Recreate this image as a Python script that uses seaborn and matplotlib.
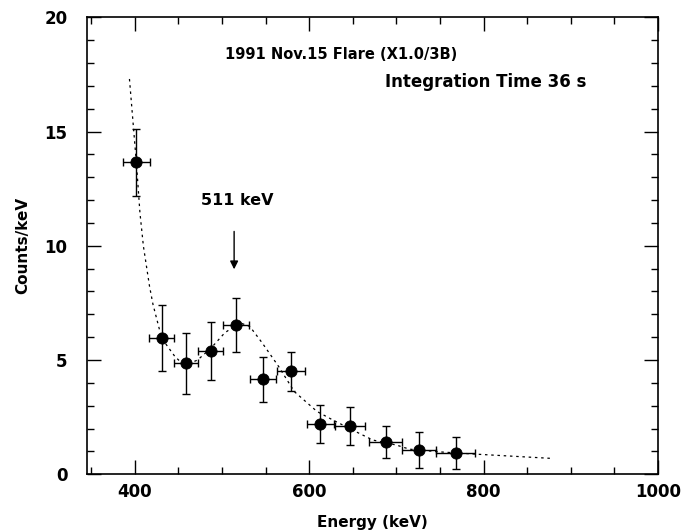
import matplotlib
matplotlib.use("Agg")
import matplotlib.pyplot as plt
import seaborn as sns
import pandas as pd
from matplotlib.ticker import MultipleLocator

# measured spectrum points
energy = [402, 431, 459, 487, 516, 547, 579, 613, 647, 688, 726, 768]
counts = [13.65, 5.95, 4.85, 5.4, 6.55, 4.15, 4.5, 2.2, 2.1, 1.4, 1.05, 0.93]
energy_err = [15, 14.5, 14, 14, 15, 15, 16, 16, 17, 19, 20, 22]
counts_err = [1.46, 1.45, 1.33, 1.28, 1.18, 1.0, 0.87, 0.85, 0.83, 0.7, 0.78, 0.72]

# fitted model curve (dotted)
fit_energy = [394, 402, 406, 410, 417, 421, 431, 446, 452, 464, 472, 487,
              503, 520, 532, 546, 565, 583, 609, 627, 657, 673, 700, 715,
              750, 792, 876]
fit_counts = [17.3, 13.6, 11.45, 9.98, 8.23, 7.43, 5.95, 5.16, 4.94, 4.87,
              5.0, 5.5, 6.18, 6.64, 6.47, 5.76, 4.72, 3.62, 2.75, 2.38,
              1.8, 1.5, 1.28, 1.1, 0.98, 0.88, 0.70]

df = pd.DataFrame({"energy": energy, "counts": counts,
                   "energy_err": energy_err, "counts_err": counts_err})
fit = pd.DataFrame({"energy": fit_energy, "counts": fit_counts})

sns.set_style("ticks", {"text.color": "black", "xtick.color": "black",
                        "ytick.color": "black", "axes.labelcolor": "black",
                        "axes.edgecolor": "black"})
plt.rcParams["font.family"] = ["DejaVu Sans"]

fig = plt.figure(figsize=(6.85, 5.3), dpi=100)
ax = fig.add_axes([0.1266, 0.1051, 0.834, 0.8623])

sns.lineplot(data=fit, x="energy", y="counts", ax=ax, color="black",
             linewidth=0.9, linestyle=(0, (2, 3)), sort=False)
ax.errorbar(df["energy"], df["counts"], xerr=df["energy_err"],
            yerr=df["counts_err"], fmt="none", ecolor="black",
            elinewidth=1.0, capsize=3, capthick=1.0)
sns.scatterplot(data=df, x="energy", y="counts", ax=ax, color="black",
                s=65, edgecolor="black", zorder=5)

ax.set_xlim(345, 1000)
ax.set_ylim(0, 20)
ax.xaxis.set_major_locator(MultipleLocator(200))
ax.xaxis.set_minor_locator(MultipleLocator(50))
ax.yaxis.set_major_locator(MultipleLocator(5))
ax.yaxis.set_minor_locator(MultipleLocator(1))
ax.tick_params(which="both", direction="in", top=True, right=True,
               width=1.0, colors="black")
ax.tick_params(which="major", length=10)
ax.tick_params(which="minor", length=5)
ax.tick_params(axis="x", which="major", pad=6, labelsize=12)
ax.tick_params(axis="y", which="major", pad=14, labelsize=12)
for lab in ax.get_xticklabels() + ax.get_yticklabels():
    lab.set_fontweight("bold")
for sp in ax.spines.values():
    sp.set_linewidth(1.2)
    sp.set_visible(True)

ax.set_xlabel("Energy (keV)", fontsize=11, fontweight="bold", labelpad=10)
ax.set_ylabel("Counts/keV", fontsize=11, fontweight="bold", labelpad=10)

ax.text(504, 18.39, "1991 Nov.15 Flare (X1.0/3B)", fontsize=10.5,
        fontweight="bold", va="center", ha="left")
ax.text(687, 17.15, "Integration Time 36 s", fontsize=12,
        fontweight="bold", va="center", ha="left")
ax.text(476, 11.96, "511 keV", fontsize=11.5, fontweight="bold",
        va="center", ha="left")
ax.annotate("", xy=(514, 8.85), xytext=(514, 10.75),
            arrowprops=dict(arrowstyle="-|>", color="black", lw=1.0,
                            mutation_scale=12))

fig.savefig("out.png", dpi=100)
